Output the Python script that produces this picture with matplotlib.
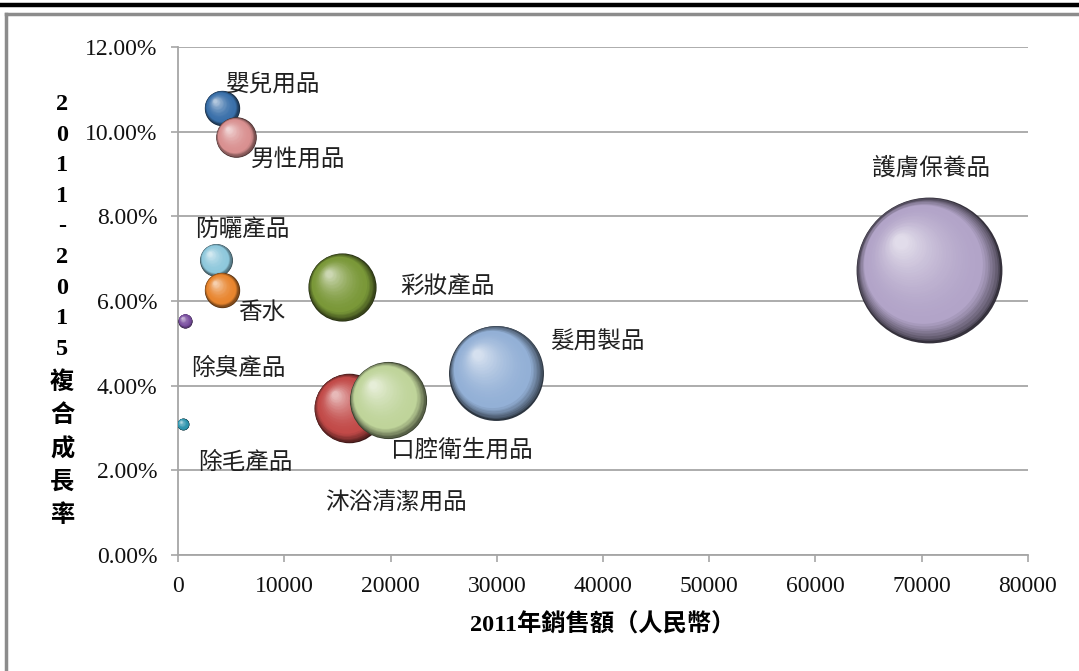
import numpy as np
import matplotlib.pyplot as plt
import matplotlib.transforms as mtransforms
from matplotlib.colors import to_rgb
from matplotlib.lines import Line2D
from matplotlib.ticker import FuncFormatter

plt.rcParams['font.family'] = ['Liberation Serif', 'Noto Sans CJK TC', 'DejaVu Sans']

# 資料：品類、2011年銷售額、2011-2015複合成長率(%)
categories = ['嬰兒用品', '男性用品', '防曬產品', '香水', '除臭產品', '除毛產品',
              '彩妝產品', '沐浴清潔用品', '口腔衛生用品', '髮用製品', '護膚保養品']
sales = [4141, 5459, 3576, 4141, 659, 470, 15435, 16047, 19765, 29929, 70682]
cagr = [10.56, 9.87, 6.97, 6.26, 5.53, 3.09, 6.33, 3.47, 3.66, 4.30, 6.73]

colors = ['#3a70aa', '#d99090', '#8ec8dc', '#e8852e', '#7a4fa0', '#2e95ae',
          '#7a9838', '#c24a48', '#bfd49a', '#93b0d6', '#b2a4c8']
# 標籤相對氣泡中心的位移 (像素)
label_dx = [51, 62, 26, 40, 53, 62, 106, 47, 74, 101, 2]
label_dy = [24, -23, 30, -23, -48, -38, 1, -95, -50, 31, 102]

SIZE_SCALE = 0.156  # 氣泡面積 ∝ 銷售額

fig = plt.figure(figsize=(10.79, 6.71), dpi=100)
ax = fig.add_axes([0.165, 0.173, 0.7877, 0.757])


def draw_sphere(ax, x, y, s, color, n=40):
    # 用一層層偏移的圓模擬立體球
    base = np.array(to_rgb(color))
    dark = base * 0.3
    light = base * 0.35 + 0.65
    R = np.sqrt(s) / 2.0
    for i in range(n):
        t = i / n
        f = 1 - t * 0.93
        if t < 0.2:
            c = dark + (base - dark) * (t / 0.2) ** 0.7
        else:
            c = base + (light - base) * ((t - 0.2) / 0.8) ** 1.8
        dx = -0.4 * R * t
        dy = 0.4 * R * t
        tr = mtransforms.offset_copy(ax.transData, fig=fig, x=dx, y=dy, units='points')
        ax.scatter([x], [y], s=s * f ** 2, color=np.clip(c, 0, 1),
                   linewidths=0, transform=tr, zorder=3)


for i, name in enumerate(categories):
    s = sales[i] * SIZE_SCALE
    draw_sphere(ax, sales[i], cagr[i], s, colors[i])
    ax.annotate(name, (sales[i], cagr[i]), xytext=(label_dx[i], label_dy[i]),
                textcoords='offset pixels', ha='center', va='center',
                fontsize=17, family=['Noto Sans CJK TC', 'DejaVu Sans'],
                color='#202020', zorder=5)

ax.set_xlim(0, 80000)
ax.set_ylim(0, 12)
ax.set_xticks(np.arange(0, 80001, 10000))
ax.set_yticks(np.arange(0, 12.1, 2))
ax.yaxis.set_major_formatter(FuncFormatter(lambda v, p: f'{v:.2f}%'))
ax.grid(axis='y', color='#a6a6a6', linewidth=1.3)
ax.set_axisbelow(True)
for side in ['top', 'right']:
    ax.spines[side].set_visible(False)
for side in ['left', 'bottom']:
    ax.spines[side].set_color('#a6a6a6')
    ax.spines[side].set_linewidth(1.3)
ax.tick_params(colors='#a6a6a6', labelcolor='#111111', labelsize=17,
               length=5, width=1.2, direction='out')
ax.tick_params(axis='x', pad=10)
ax.tick_params(axis='y', pad=10)

ax.set_xlabel('2011年銷售額（人民幣）', fontsize=17.5, fontweight='bold',
              labelpad=12)

ylabel = '\n'.join(list('2011-2015複合成長率'))
fig.text(0.0575, 0.537, ylabel, fontsize=17.5, fontweight='bold',
         ha='center', va='center', linespacing=1.6)

# 外框
fig.add_artist(Line2D([0, 1], [0.9925, 0.9925], color='black', linewidth=3.2))
fig.add_artist(Line2D([0.0056, 1], [0.979, 0.979], color='#8c8c8c', linewidth=2.5))
fig.add_artist(Line2D([0.0056, 0.0056], [0, 0.979], color='#8c8c8c', linewidth=2.5))

fig.savefig('out.png', dpi=100)
